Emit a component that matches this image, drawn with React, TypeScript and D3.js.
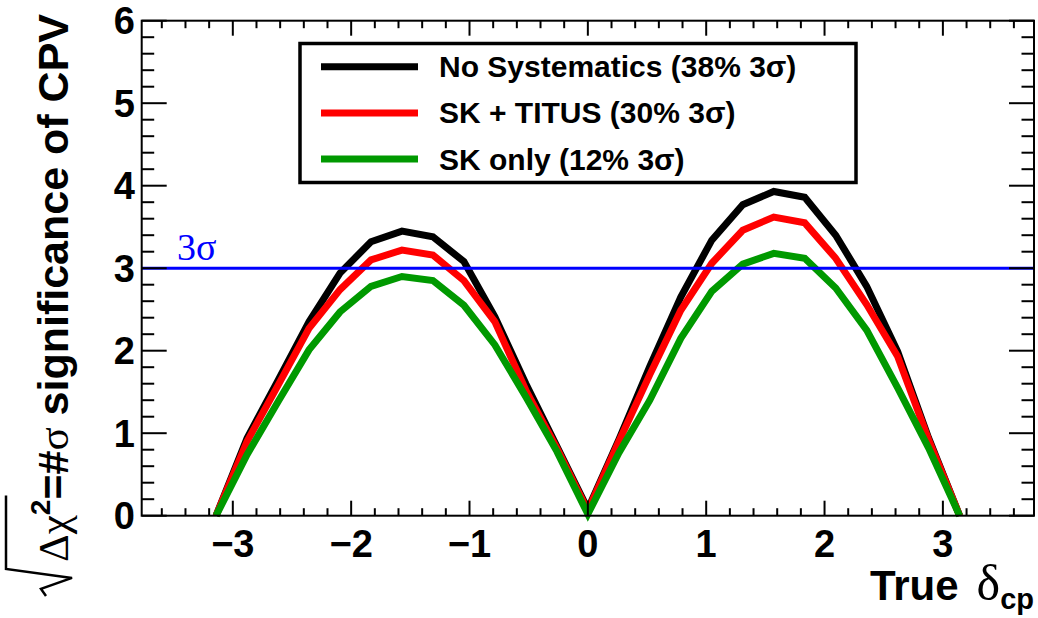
import React, { useEffect, useRef } from 'react';
import * as d3 from 'd3';

// ---------- data ----------
const deltaCP = [
  -3.1416, -2.8798, -2.618, -2.3562, -2.0944, -1.8326, -1.5708, -1.309, -1.0472, -0.7854, -0.5236, -0.2618,
  0, 0.2618, 0.5236, 0.7854, 1.0472, 1.309, 1.5708, 1.8326, 2.0944, 2.3562, 2.618, 2.8798, 3.1416,
];
const noSyst = [
  0, 0.94, 1.64, 2.35, 2.94, 3.32, 3.45, 3.38, 3.08, 2.41, 1.6, 0.84,
  0.08, 0.92, 1.81, 2.65, 3.34, 3.77, 3.93, 3.86, 3.4, 2.78, 1.99, 0.94, 0,
];
const skTitus = [
  0, 0.9, 1.58, 2.27, 2.74, 3.1, 3.22, 3.16, 2.85, 2.35, 1.52, 0.82,
  0.06, 0.9, 1.71, 2.49, 3.06, 3.46, 3.62, 3.55, 3.12, 2.56, 1.93, 0.92, 0,
];
const skOnly = [
  0, 0.74, 1.38, 2.01, 2.47, 2.78, 2.9, 2.85, 2.55, 2.07, 1.44, 0.78,
  0.02, 0.76, 1.4, 2.15, 2.72, 3.05, 3.18, 3.12, 2.76, 2.25, 1.55, 0.82, 0,
];
const seriesNames = ['No Systematics (38% 3\u03c3)', 'SK + TITUS (30% 3\u03c3)', 'SK only (12% 3\u03c3)'];
const seriesColors = ['#000000', '#ff0000', '#009900'];
const xTickValues = [-3, -2, -1, 0, 1, 2, 3];
const xTickLabels = ['\u22123', '\u22122', '\u22121', '0', '1', '2', '3'];
const yTickValues = [0, 1, 2, 3, 4, 5, 6];
const yTickLabels = ['0', '1', '2', '3', '4', '5', '6'];
const sigmaLevel = 3;
const xDomain = [-1.2 * Math.PI, 1.2 * Math.PI];
const yDomain = [0, 6];

const SANS = '"Liberation Sans", Arial, Helvetica, sans-serif';
const SERIF = '"Liberation Serif", "Times New Roman", serif';

export default function App() {
  const W = 1038, H = 618;
  const L = 141.7, R = 1034, T = 20.7, B = 515.7;
  const x = d3.scaleLinear().domain(xDomain).range([L, R]);
  const y = d3.scaleLinear().domain(yDomain).range([B, T]);
  const line = d3.line<[number, number]>().x(d => x(d[0])).y(d => y(d[1]));
  const series = [noSyst, skTitus, skOnly];

  const xMinor = d3.range(-36, 37, 2).map(v => v / 10).filter(v => !xTickValues.includes(v));
  const yMinor = d3.range(0, 61, 2).map(v => v / 10).filter(v => !yTickValues.includes(v));

  const titleRef = useRef<SVGTextElement>(null);
  const radRef = useRef<SVGPathElement>(null);
  useEffect(() => {
    const t = titleRef.current;
    const p = radRef.current;
    if (!t || !p) return;
    const s = t.getStartPositionOfChar(0).x;
    const e = t.getEndPositionOfChar(2).x;
    const top = -62;
    p.setAttribute(
      'd',
      `M${s - 34},-22 L${s - 27},-27 L${s - 16},4 L${s - 7},${top} L${e + 4},${top}`
    );
  }, []);

  return (
    <svg width={W} height={H} style={{ position: 'absolute', left: 0, top: 0, background: '#fff' }}>
      <rect x={0} y={0} width={W} height={H} fill="#fff" />
      {/* curves */}
      {series.map((vals, i) => (
        <path
          key={i}
          d={line(deltaCP.map((d, j) => [d, vals[j]] as [number, number])) || ''}
          fill="none"
          stroke={seriesColors[i]}
          strokeWidth={7}
          strokeLinejoin="miter"
        />
      ))}
      {/* 3 sigma line */}
      <line x1={L} x2={R} y1={y(sigmaLevel)} y2={y(sigmaLevel)} stroke="#0000ff" strokeWidth={3} />
      <text x={177} y={y(sigmaLevel) - 8} fontFamily={SERIF} fontSize={38} fill="#0000ff">
        3{'\u03c3'}
      </text>
      {/* frame */}
      <rect x={L} y={T} width={R - L} height={B - T} fill="none" stroke="#000" strokeWidth={2} />
      {/* x ticks */}
      {xTickValues.map(v => (
        <g key={'xm' + v}>
          <line x1={x(v)} x2={x(v)} y1={B} y2={B - 15} stroke="#000" strokeWidth={2} />
          <line x1={x(v)} x2={x(v)} y1={T} y2={T + 15} stroke="#000" strokeWidth={2} />
        </g>
      ))}
      {xMinor.map(v => (
        <g key={'xn' + v}>
          <line x1={x(v)} x2={x(v)} y1={B} y2={B - 7.5} stroke="#000" strokeWidth={2} />
          <line x1={x(v)} x2={x(v)} y1={T} y2={T + 7.5} stroke="#000" strokeWidth={2} />
        </g>
      ))}
      {/* y ticks */}
      {yTickValues.map(v => (
        <g key={'ym' + v}>
          <line x1={L} x2={L + 25} y1={y(v)} y2={y(v)} stroke="#000" strokeWidth={2} />
          <line x1={R} x2={R - 25} y1={y(v)} y2={y(v)} stroke="#000" strokeWidth={2} />
        </g>
      ))}
      {yMinor.map(v => (
        <g key={'yn' + v}>
          <line x1={L} x2={L + 12.5} y1={y(v)} y2={y(v)} stroke="#000" strokeWidth={2} />
          <line x1={R} x2={R - 12.5} y1={y(v)} y2={y(v)} stroke="#000" strokeWidth={2} />
        </g>
      ))}
      {/* tick labels */}
      {xTickValues.map((v, i) => (
        <text
          key={'xl' + v}
          x={x(v)}
          y={557}
          textAnchor="middle"
          fontFamily={SANS}
          fontWeight="bold"
          fontSize={38}
        >
          {xTickLabels[i]}
        </text>
      ))}
      {yTickValues.map((v, i) => (
        <text
          key={'yl' + v}
          x={135}
          y={y(v) + 13.5}
          textAnchor="end"
          fontFamily={SANS}
          fontWeight="bold"
          fontSize={38}
        >
          {yTickLabels[i]}
        </text>
      ))}
      {/* x title */}
      <text x={1034} y={600} textAnchor="end" fontFamily={SANS} fontWeight="bold" fontSize={42}>
        <tspan>True</tspan>
        <tspan dx={18} fontFamily={SERIF} fontWeight="normal" fontSize={50}>{'\u03b4'}</tspan>
        <tspan dy={9} fontSize={29}>cp</tspan>
      </text>
      {/* y title */}
      <g transform="translate(68,14) rotate(-90)">
        <text ref={titleRef} x={0} y={0} textAnchor="end" fontFamily={SANS} fontWeight="bold" fontSize={43}>
          <tspan fontFamily={SERIF} fontWeight="normal">{'\u0394\u03c7'}</tspan>
          <tspan fontFamily={SANS} fontSize={28} dy={-18}>2</tspan>
          <tspan dy={18}>=#</tspan>
          <tspan fontFamily={SERIF} fontWeight="normal">{'\u03c3'}</tspan>
          <tspan> significance of CPV</tspan>
        </text>
        <path ref={radRef} d="" fill="none" stroke="#000" strokeWidth={2.5} />
      </g>
      {/* legend */}
      <rect x={300} y={43.5} width={556} height={139} fill="#fff" stroke="#000" strokeWidth={3.5} />
      {seriesNames.map((n, i) => {
        const ly = 66.7 + i * 46.2;
        return (
          <g key={'lg' + i}>
            <line x1={321} x2={418} y1={ly} y2={ly} stroke={seriesColors[i]} strokeWidth={7} />
            <text x={439} y={ly + 10.5} fontFamily={SANS} fontWeight="bold" fontSize={30}>
              {n}
            </text>
          </g>
        );
      })}
    </svg>
  );
}
